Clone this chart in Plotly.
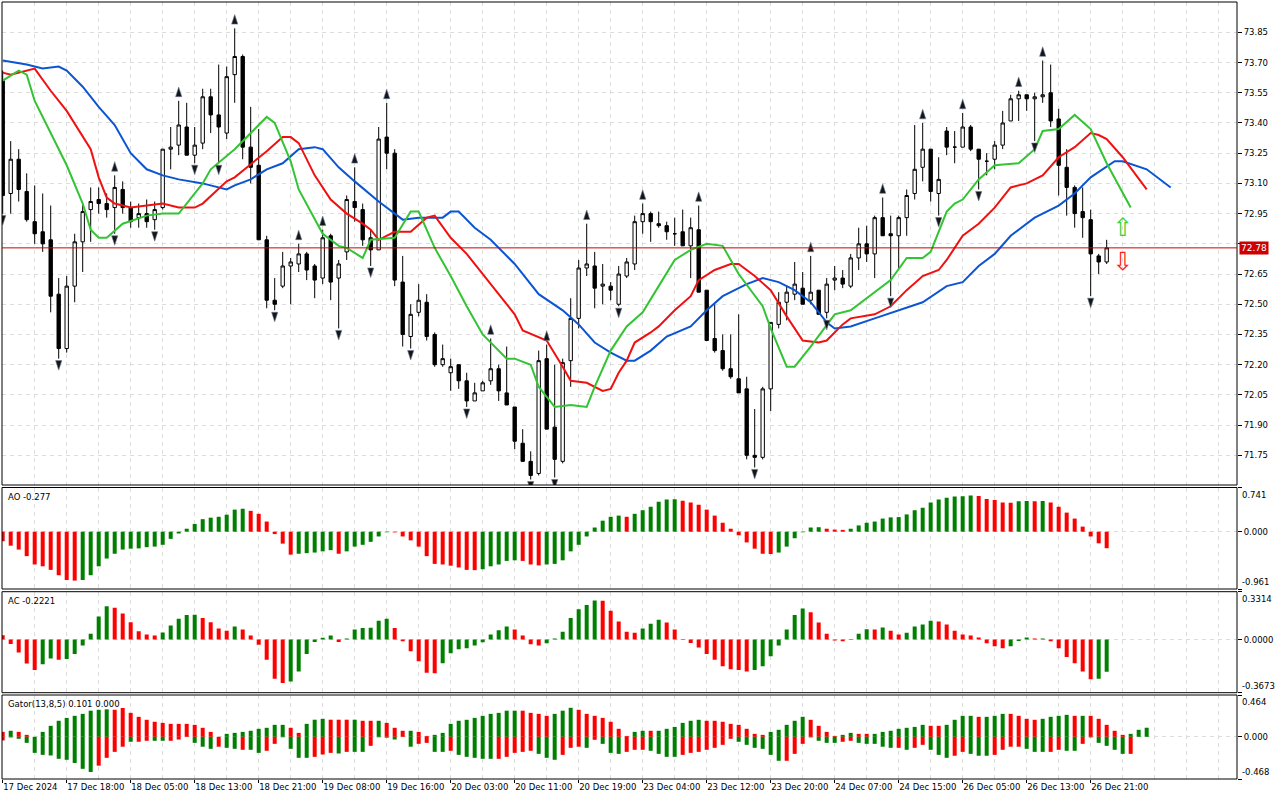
import plotly.graph_objects as go

# ---------------- price data (H1 bars, index 0..138) ----------------
opens = [73.61, 73.05, 73.22, 73.06, 72.91, 72.86, 72.82, 72.55, 72.28, 72.59,
         72.81, 72.97, 73.02, 73.00, 72.98, 73.07, 72.98, 72.93, 72.95, 72.92,
         72.98, 73.27, 73.29, 73.38, 73.24, 73.30, 73.53, 73.44, 73.35, 73.64,
         73.73, 73.28, 73.19, 72.82, 72.52, 72.59, 72.69, 72.70, 72.75, 72.69,
         72.63, 72.84, 72.63, 72.76, 73.01, 72.97, 72.83, 72.77, 73.33, 73.25,
         72.61, 72.34, 72.46, 72.51, 72.35, 72.20, 72.16, 72.20, 72.12, 72.02,
         72.07, 72.12, 72.18, 72.06, 71.99, 71.81, 71.72, 71.66, 72.23, 71.89,
         71.72, 72.22, 72.43, 72.68, 72.69, 72.59, 72.59, 72.50, 72.64, 72.70,
         72.91, 72.95, 72.90, 72.89, 72.85, 72.86, 72.79, 72.87, 72.57, 72.33,
         72.27, 72.18, 72.13, 72.08, 71.75, 71.74, 72.08, 72.40, 72.51, 72.55,
         72.58, 72.52, 72.57, 72.46, 72.62, 72.63, 72.59, 72.73, 72.80, 72.75,
         72.93, 72.85, 72.84, 72.93, 73.05, 73.18, 73.27, 73.05, 73.36, 73.28,
         73.28, 73.38, 73.27, 73.21, 73.22, 73.29, 73.41, 73.52, 73.54, 73.52,
         73.53, 73.55, 73.42, 73.18, 73.08, 72.96, 72.92, 72.74, 72.71]
highs = [73.66, 73.31, 73.27, 73.15, 73.09, 73.05, 72.99, 72.63, 72.64, 72.85,
         73.00, 73.08, 73.08, 73.05, 73.14, 73.11, 73.01, 73.00, 73.02, 73.01,
         73.27, 73.38, 73.51, 73.50, 73.38, 73.57, 73.57, 73.69, 73.68, 73.87,
         73.74, 73.48, 73.37, 72.84, 72.63, 72.76, 72.73, 72.80, 72.76, 72.70,
         72.87, 72.85, 72.72, 73.04, 73.18, 73.00, 72.87, 73.38, 73.50, 73.27,
         72.74, 72.50, 72.60, 72.55, 72.36, 72.30, 72.23, 72.20, 72.16, 72.11,
         72.12, 72.33, 72.20, 72.29, 71.99, 71.88, 71.77, 72.27, 72.30, 72.20,
         72.23, 72.53, 72.72, 72.90, 72.76, 72.70, 72.61, 72.69, 72.73, 72.94,
         73.00, 72.96, 72.96, 72.91, 72.93, 72.97, 72.93, 72.99, 72.57, 72.50,
         72.35, 72.35, 72.45, 72.14, 71.98, 72.09, 72.41, 72.56, 72.59, 72.71,
         72.66, 72.74, 72.57, 72.63, 72.69, 72.67, 72.75, 72.88, 72.89, 72.94,
         73.03, 72.94, 72.94, 73.07, 73.39, 73.40, 73.27, 73.23, 73.38, 73.36,
         73.45, 73.39, 73.27, 73.25, 73.31, 73.46, 73.54, 73.56, 73.54, 73.55,
         73.71, 73.69, 73.47, 73.27, 73.09, 73.08, 72.97, 72.75, 72.82]
lows = [72.95, 72.95, 73.01, 72.91, 72.80, 72.76, 72.46, 72.23, 72.26, 72.51,
        72.66, 72.81, 72.95, 72.93, 72.85, 72.95, 72.88, 72.88, 72.88, 72.87,
        72.97, 73.17, 73.24, 73.24, 73.20, 73.27, 73.35, 73.20, 73.32, 73.50,
        73.22, 73.10, 72.82, 72.48, 72.47, 72.58, 72.50, 72.66, 72.62, 72.53,
        72.60, 72.52, 72.38, 72.72, 72.91, 72.79, 72.69, 72.77, 73.17, 72.59,
        72.29, 72.28, 72.44, 72.32, 72.19, 72.19, 72.07, 72.08, 71.99, 72.02,
        72.07, 72.10, 72.02, 72.00, 71.78, 71.72, 71.63, 71.65, 71.88, 71.64,
        71.71, 72.09, 72.38, 72.64, 72.48, 72.50, 72.52, 72.49, 72.63, 72.67,
        72.85, 72.81, 72.88, 72.82, 72.79, 72.79, 72.63, 72.56, 72.32, 72.26,
        72.17, 72.13, 72.06, 71.73, 71.69, 71.73, 71.97, 72.38, 72.42, 72.52,
        72.50, 72.50, 72.45, 72.43, 72.57, 72.58, 72.58, 72.67, 72.71, 72.63,
        72.84, 72.54, 72.68, 72.84, 73.02, 73.11, 73.01, 72.94, 73.24, 73.20,
        73.28, 73.26, 73.07, 73.14, 73.17, 73.27, 73.41, 73.41, 73.46, 73.31,
        73.50, 73.38, 73.04, 72.94, 72.88, 72.83, 72.54, 72.65, 72.70]
closes = [73.04, 73.22, 73.07, 72.92, 72.85, 72.80, 72.54, 72.28, 72.59, 72.81,
          72.96, 73.01, 73.00, 72.97, 73.08, 72.98, 72.91, 72.95, 72.91, 72.97,
          73.27, 73.28, 73.39, 73.24, 73.29, 73.53, 73.44, 73.38, 73.63, 73.73,
          73.28, 73.18, 72.82, 72.52, 72.50, 72.69, 72.71, 72.75, 72.67, 72.62,
          72.83, 72.61, 72.70, 73.02, 72.98, 72.82, 72.77, 73.32, 73.25, 72.62,
          72.35, 72.45, 72.52, 72.34, 72.20, 72.23, 72.19, 72.12, 72.02, 72.06,
          72.11, 72.18, 72.07, 72.00, 71.82, 71.72, 71.65, 72.22, 71.88, 71.73,
          72.21, 72.43, 72.68, 72.70, 72.58, 72.60, 72.57, 72.65, 72.71, 72.91,
          72.95, 72.91, 72.89, 72.86, 72.85, 72.79, 72.88, 72.56, 72.32, 72.27,
          72.18, 72.14, 72.06, 71.75, 71.74, 72.08, 72.41, 72.51, 72.56, 72.60,
          72.50, 72.56, 72.45, 72.60, 72.63, 72.60, 72.73, 72.80, 72.75, 72.93,
          72.84, 72.84, 72.93, 73.04, 73.17, 73.27, 73.06, 73.12, 73.28, 73.28,
          73.38, 73.27, 73.22, 73.21, 73.29, 73.40, 73.52, 73.54, 73.52, 73.53,
          73.54, 73.41, 73.19, 73.08, 72.95, 72.93, 72.75, 72.71, 72.78]

last_price = 72.78

# ---------------- Alligator lines ----------------
jaw_x = [0, 3, 5, 7, 8, 10, 12, 14, 16, 18,
         20, 22, 25, 28, 29, 31, 33, 35, 37, 39,
         40, 42, 44, 47, 50, 52, 55, 56, 57, 59,
         61, 64, 67, 70, 72, 74, 76, 78, 79, 81,
         83, 86, 88, 90, 93, 95, 97, 99, 101, 103,
         104, 106, 109, 112, 115, 118, 120, 122, 124, 126,
         129, 132, 134, 136, 139, 140, 143, 146]
jaw_y = [73.71, 73.69, 73.67, 73.68, 73.66, 73.58, 73.48, 73.39, 73.25, 73.17,
         73.14, 73.12, 73.10, 73.07, 73.09, 73.12, 73.17, 73.20, 73.27, 73.28,
         73.27, 73.18, 73.11, 73.01, 72.92, 72.93, 72.93, 72.96, 72.96, 72.88,
         72.82, 72.70, 72.55, 72.47, 72.40, 72.31, 72.26, 72.22, 72.22, 72.27,
         72.34, 72.39, 72.47, 72.54, 72.60, 72.63, 72.61, 72.57, 72.51, 72.41,
         72.38, 72.39, 72.43, 72.47, 72.51, 72.59, 72.61, 72.69, 72.75, 72.84,
         72.93, 72.99, 73.05, 73.13, 73.21, 73.21, 73.17, 73.08]
teeth_x = [0, 1, 4, 6, 8, 10, 11, 12, 13, 14,
           16, 18, 20, 22, 24, 25, 28, 29, 33, 35,
           36, 37, 39, 41, 43, 45, 46, 47, 49, 51,
           53, 54, 56, 58, 60, 62, 64, 65, 68, 70,
           71, 73, 75, 76, 77, 78, 79, 81, 82, 84,
           86, 87, 89, 91, 92, 94, 96, 98, 100, 102,
           103, 105, 106, 109, 111, 113, 115, 117, 118, 120,
           122, 124, 126, 128, 130, 132, 134, 136, 137, 138,
           140, 143]
teeth_y = [73.65, 73.64, 73.67, 73.56, 73.46, 73.33, 73.27, 73.13, 73.03, 73.00,
           72.98, 72.99, 73.00, 72.98, 72.98, 73.00, 73.11, 73.13, 73.26, 73.33,
           73.33, 73.30, 73.14, 73.02, 72.95, 72.90, 72.87, 72.82, 72.86, 72.86,
           72.93, 72.94, 72.83, 72.75, 72.65, 72.55, 72.45, 72.37, 72.32, 72.19,
           72.12, 72.11, 72.07, 72.08, 72.16, 72.22, 72.31, 72.36, 72.39, 72.47,
           72.54, 72.62, 72.67, 72.70, 72.70, 72.64, 72.57, 72.44, 72.32, 72.31,
           72.32, 72.40, 72.43, 72.45, 72.49, 72.57, 72.64, 72.67, 72.72, 72.84,
           72.90, 72.98, 73.08, 73.10, 73.14, 73.23, 73.28, 73.35, 73.34, 73.32,
           73.23, 73.07]
lips_x = [0, 2, 3, 4, 6, 8, 10, 11, 12, 13,
          15, 18, 20, 22, 25, 26, 29, 31, 33, 34,
          36, 37, 39, 40, 42, 43, 45, 46, 49, 51,
          52, 54, 56, 58, 60, 63, 64, 66, 67, 69,
          71, 73, 74, 76, 78, 80, 82, 84, 86, 88,
          90, 92, 95, 96, 98, 99, 101, 103, 104, 106,
          109, 111, 113, 115, 116, 118, 119, 120, 122, 124,
          127, 129, 130, 132, 134, 136, 138, 140, 141]
lips_y = [73.61, 73.66, 73.64, 73.51, 73.35, 73.19, 73.00, 72.87, 72.83, 72.83,
          72.90, 72.94, 72.95, 72.95, 73.10, 73.17, 73.27, 73.35, 73.43, 73.40,
          73.21, 73.07, 72.92, 72.85, 72.79, 72.78, 72.73, 72.82, 72.83, 72.96,
          72.96, 72.78, 72.64, 72.49, 72.35, 72.23, 72.23, 72.20, 72.09, 71.99,
          72.00, 71.99, 72.09, 72.27, 72.39, 72.46, 72.59, 72.72, 72.77, 72.80,
          72.79, 72.65, 72.49, 72.38, 72.19, 72.19, 72.29, 72.40, 72.45, 72.47,
          72.56, 72.62, 72.73, 72.73, 72.76, 72.96, 73.00, 73.02, 73.12, 73.19,
          73.20, 73.27, 73.36, 73.37, 73.44, 73.37, 73.20, 73.05, 72.98]

# ---------------- Fractals (bar indices) ----------------
fractal_up = [14, 22, 29, 37, 40, 44, 48, 61, 68, 73, 80, 87, 101, 110, 115, 120, 127, 130]
fractal_down = [0, 7, 14, 19, 24, 27, 34, 42, 46, 51, 58, 66, 69, 77, 94, 103, 111, 117, 122, 129, 136]

# signal arrows at the right of the last bar
signal_x = [140]
signal_up_y = [72.87]
signal_down_y = [72.70]

# ---------------- Awesome Oscillator ----------------
ao = [-0.16, -0.235, -0.30, -0.41, -0.55, -0.58, -0.64, -0.73, -0.81, -0.82,
      -0.81, -0.73, -0.58, -0.45, -0.37, -0.30, -0.285, -0.28, -0.26, -0.25,
      -0.22, -0.12, -0.03, 0.05, 0.13, 0.21, 0.235, 0.25, 0.285, 0.37,
      0.385, 0.35, 0.30, 0.17, -0.04, -0.20, -0.385, -0.37, -0.36, -0.35,
      -0.33, -0.31, -0.37, -0.33, -0.25, -0.22, -0.17, -0.08, -0.01, -0.012,
      -0.08, -0.145, -0.25, -0.41, -0.54, -0.55, -0.57, -0.60, -0.64, -0.645,
      -0.63, -0.58, -0.55, -0.49, -0.48, -0.49, -0.55, -0.565, -0.55, -0.54,
      -0.48, -0.33, -0.22, -0.08, 0.07, 0.185, 0.25, 0.27, 0.25, 0.30,
      0.36, 0.42, 0.50, 0.54, 0.545, 0.52, 0.49, 0.45, 0.37, 0.27,
      0.15, 0.05, -0.06, -0.18, -0.285, -0.37, -0.375, -0.35, -0.25, -0.11,
      -0.01, 0.07, 0.075, 0.05, 0.035, 0.03, 0.05, 0.105, 0.15, 0.17,
      0.22, 0.24, 0.245, 0.29, 0.36, 0.40, 0.49, 0.54, 0.57, 0.59,
      0.595, 0.605, 0.60, 0.55, 0.53, 0.49, 0.485, 0.51, 0.515, 0.51,
      0.515, 0.49, 0.42, 0.32, 0.22, 0.085, -0.08, -0.195, -0.277]
ao_scale = [-0.961, 0.741]

# ---------------- Accelerator Oscillator ----------------
ac = [0.03, -0.03, -0.09, -0.165, -0.21, -0.17, -0.13, -0.14, -0.135, -0.10,
      -0.04, 0.04, 0.16, 0.23, 0.22, 0.18, 0.12, 0.058, 0.035, 0.028,
      0.05, 0.097, 0.145, 0.17, 0.172, 0.15, 0.12, 0.076, 0.062, 0.09,
      0.07, 0.028, -0.035, -0.14, -0.27, -0.30, -0.29, -0.22, -0.10, -0.016,
      0.012, 0.028, -0.016, 0.007, 0.07, 0.08, 0.082, 0.13, 0.145, 0.08,
      -0.012, -0.08, -0.15, -0.23, -0.232, -0.164, -0.095, -0.067, -0.06, -0.04,
      -0.018, 0.035, 0.065, 0.09, 0.07, 0.028, -0.032, -0.04, -0.025, 0.007,
      0.055, 0.15, 0.21, 0.24, 0.27, 0.268, 0.20, 0.125, 0.055, 0.048,
      0.076, 0.11, 0.138, 0.118, 0.07, 0.005, -0.023, -0.055, -0.10, -0.14,
      -0.185, -0.205, -0.21, -0.22, -0.21, -0.185, -0.115, -0.04, 0.07, 0.17,
      0.215, 0.19, 0.118, 0.04, -0.007, -0.012, -0.002, 0.04, 0.072, 0.07,
      0.083, 0.062, 0.035, 0.048, 0.09, 0.104, 0.13, 0.125, 0.104, 0.062,
      0.035, 0.028, 0.014, -0.025, -0.046, -0.06, -0.046, -0.009, 0.014, 0.007,
      0.008, -0.012, -0.06, -0.12, -0.164, -0.22, -0.275, -0.27, -0.2221]
ac_scale = [-0.3673, 0.3314]

# ---------------- Gator Oscillator (13,8,5) ----------------
gator_up = [0.055, 0.067, 0.055, 0.022, 0.0, 0.055, 0.122, 0.178, 0.21, 0.233,
            0.255, 0.29, 0.30, 0.305, 0.30, 0.32, 0.266, 0.222, 0.189, 0.167,
            0.155, 0.144, 0.144, 0.144, 0.133, 0.10, 0.055, 0.0, 0.033, 0.044,
            0.055, 0.067, 0.089, 0.10, 0.133, 0.133, 0.10, 0.044, 0.144, 0.19,
            0.20, 0.19, 0.19, 0.19, 0.19, 0.178, 0.178, 0.178, 0.155, 0.10,
            0.067, 0.067, 0.055, 0.01, 0.022, 0.044, 0.144, 0.178, 0.189, 0.21,
            0.233, 0.255, 0.266, 0.29, 0.29, 0.29, 0.266, 0.255, 0.233, 0.255,
            0.29, 0.322, 0.30, 0.255, 0.233, 0.21, 0.167, 0.089, 0.01, 0.055,
            0.067, 0.067, 0.067, 0.089, 0.11, 0.155, 0.178, 0.189, 0.178, 0.178,
            0.167, 0.144, 0.133, 0.089, 0.033, 0.022, 0.055, 0.078, 0.133, 0.178,
            0.222, 0.189, 0.122, 0.055, 0.01, 0.022, 0.044, 0.033, 0.033, 0.033,
            0.055, 0.067, 0.089, 0.10, 0.11, 0.133, 0.122, 0.122, 0.133, 0.189,
            0.233, 0.233, 0.222, 0.222, 0.233, 0.255, 0.255, 0.233, 0.20, 0.189,
            0.20, 0.222, 0.233, 0.244, 0.233, 0.233, 0.233, 0.20, 0.133, 0.067,
            0.022, 0.033, 0.078, 0.101]
gator_up_colors = ("rgrrgggggg" "ggggrrrrrr" "rrrrrrrrgg" "ggggggrrgg" "grrrgrrgrr"
                   "rgrrgggggg" "gggggrrrrg" "ggrrrrrrrg" "grggggggrr" "rrrrrrgggg"
                   "grrrrggrrg" "ggggggrrgg" "ggrgggrrrr" "ggggrgrrrr" "rggg")
gator_down = [-0.04, -0.007, -0.022, -0.067, -0.178, -0.20, -0.207, -0.244, -0.255, -0.29,
              -0.355, -0.39, -0.32, -0.233, -0.167, -0.11, -0.055, -0.055, -0.044, -0.044,
              -0.044, -0.044, -0.03, 0.0, -0.067, -0.11, -0.133, -0.11, -0.122, -0.133,
              -0.144, -0.144, -0.178, -0.155, -0.078, -0.005, -0.133, -0.233, -0.233, -0.222,
              -0.196, -0.178, -0.185, -0.167, -0.167, -0.167, -0.10, -0.005, -0.01, -0.03,
              0.0, -0.11, -0.078, -0.067, -0.167, -0.167, -0.155, -0.20, -0.222, -0.233,
              -0.244, -0.244, -0.244, -0.222, -0.178, -0.167, -0.155, -0.189, -0.233, -0.255,
              -0.20, -0.122, -0.11, -0.122, -0.033, -0.078, -0.178, -0.189, -0.167, -0.144,
              -0.144, -0.155, -0.189, -0.222, -0.222, -0.20, -0.178, -0.167, -0.144, -0.122,
              -0.089, -0.022, -0.055, -0.089, -0.122, -0.133, -0.20, -0.266, -0.266, -0.189,
              -0.078, -0.007, -0.044, -0.067, -0.067, -0.055, -0.044, -0.067, -0.078, -0.078,
              -0.11, -0.122, -0.122, -0.144, -0.122, -0.089, -0.144, -0.20, -0.233, -0.21,
              -0.167, -0.189, -0.21, -0.21, -0.20, -0.144, -0.11, -0.11, -0.133, -0.167,
              -0.167, -0.167, -0.144, -0.155, -0.155, -0.078, -0.007, -0.067, -0.10, -0.144,
              -0.189, -0.189, 0.0, 0.0]
gator_down_colors = ("rggggggggg" "ggrrrrgrrg" "grrggggrgg" "rggrrggggr" "rrgrggrggg"
                     "ggrrggrggg" "ggrrrrrggg" "rrrgrgggrr" "rggggrrrrr" "rrggggggrr"
                     "rggggrrggg" "ggrgrrgggr" "rgggrrrrgg" "grrggrgggg" "grgr")
gator_scale = [-0.468, 0.464]

# ---------------- axis labels ----------------
price_ticks = [71.75, 71.90, 72.05, 72.20, 72.35, 72.50, 72.65, 72.80,
               72.95, 73.10, 73.25, 73.40, 73.55, 73.70, 73.85]
# 72.80 is covered by the last-price box in the reference
price_tick_labels = ["71.75", "71.90", "72.05", "72.20", "72.35", "72.50", "72.65", "",
                     "72.95", "73.10", "73.25", "73.40", "73.55", "73.70", "73.85"]
time_tick_pos = [0, 8, 16, 24, 32, 40, 48, 56, 64, 72, 80, 88, 96, 104, 112, 120, 128, 136]
time_tick_labels = ["17 Dec 2024", "17 Dec 18:00", "18 Dec 05:00", "18 Dec 13:00", "18 Dec 21:00",
                    "19 Dec 08:00", "19 Dec 16:00", "20 Dec 03:00", "20 Dec 11:00", "20 Dec 19:00",
                    "23 Dec 04:00", "23 Dec 12:00", "23 Dec 20:00", "24 Dec 07:00", "24 Dec 15:00",
                    "26 Dec 05:00", "26 Dec 13:00", "26 Dec 21:00"]

# ---------------- styling ----------------
FONT = "DejaVu Sans"
FS = 8.5
GRID = "#dcdcdc"
GDASH = "4px,4px"
GREEN = "#008000"
RED = "#ff0000"
COLMAP = {"g": GREEN, "r": RED}


def up_down_colors(vals):
    out = [RED]
    for a, b in zip(vals[:-1], vals[1:]):
        out.append(GREEN if b > a else RED)
    return out


idx = list(range(len(opens)))
fig = go.Figure()

fig.add_trace(go.Candlestick(
    x=idx, open=opens, high=highs, low=lows, close=closes,
    increasing=dict(line=dict(color="black", width=1), fillcolor="white"),
    decreasing=dict(line=dict(color="black", width=1), fillcolor="black"),
    xaxis="x", yaxis="y", hoverinfo="skip", showlegend=False))

for xs, ys, col in [(jaw_x, jaw_y, "#0b55d3"), (teeth_x, teeth_y, "#f01010"), (lips_x, lips_y, "#33c433")]:
    fig.add_trace(go.Scatter(x=xs, y=ys, mode="lines", line=dict(color=col, width=2),
                             xaxis="x", yaxis="y", hoverinfo="skip", showlegend=False))

fig.add_trace(go.Scatter(
    x=fractal_up, y=[highs[i] + 0.068 for i in fractal_up], mode="markers",
    marker=dict(symbol="arrow", size=10, color="#151515", line=dict(width=0.6, color="#6a7a9a")),
    xaxis="x", yaxis="y", hoverinfo="skip", showlegend=False))
fig.add_trace(go.Scatter(
    x=fractal_down, y=[lows[i] - 0.057 for i in fractal_down], mode="markers",
    marker=dict(symbol="arrow", angle=180, size=10, color="#151515", line=dict(width=0.6, color="#6a7a9a")),
    xaxis="x", yaxis="y", hoverinfo="skip", showlegend=False))

fig.add_trace(go.Scatter(x=signal_x, y=signal_up_y, mode="text", text=["⇧"],
                         textfont=dict(family=FONT, size=25, color="#3ccf3c"),
                         xaxis="x", yaxis="y", hoverinfo="skip", showlegend=False))
fig.add_trace(go.Scatter(x=signal_x, y=signal_down_y, mode="text", text=["⇩"],
                         textfont=dict(family=FONT, size=25, color="#ff2020"),
                         xaxis="x", yaxis="y", hoverinfo="skip", showlegend=False))

fig.add_trace(go.Bar(x=idx, y=ao, marker=dict(color=up_down_colors(ao), line=dict(width=0)),
                     width=0.5, xaxis="x2", yaxis="y2", hoverinfo="skip", showlegend=False))
fig.add_trace(go.Bar(x=idx, y=ac, marker=dict(color=up_down_colors(ac), line=dict(width=0)),
                     width=0.5, xaxis="x3", yaxis="y3", hoverinfo="skip", showlegend=False))
gx = list(range(len(gator_up)))
fig.add_trace(go.Bar(x=gx, y=gator_up, marker=dict(color=[COLMAP[c] for c in gator_up_colors], line=dict(width=0)),
                     width=0.5, xaxis="x4", yaxis="y4", hoverinfo="skip", showlegend=False))
fig.add_trace(go.Bar(x=gx, y=gator_down, marker=dict(color=[COLMAP[c] for c in gator_down_colors], line=dict(width=0)),
                     width=0.5, xaxis="x4", yaxis="y4", hoverinfo="skip", showlegend=False))

# pixel geometry -> domains (plot area 777 px tall, from y=2 to y=779)
H = 777.0
def dom(top_px, bot_px):
    return [(779 - bot_px) / H, (779 - top_px) / H]

D_MAIN = dom(2, 485)
D_AO = dom(487.5, 589)
D_AC = dom(591.7, 692.7)
D_GT = dom(695, 779)

XR = [-0.0875, 154.29]
minor = dict(tickmode="linear", tick0=0, dtick=4, showgrid=True, gridcolor=GRID, griddash=GDASH,
             gridwidth=1, ticks="")
xbase = dict(range=XR, tickmode="array", tickvals=time_tick_pos, showgrid=True, gridcolor=GRID,
             griddash=GDASH, gridwidth=1, zeroline=False, showline=False, minor=minor,
             fixedrange=True, automargin=False, tickangle=0)

layout = dict(
    width=1280, height=800,
    margin=dict(l=2, r=43, t=2, b=21, autoexpand=False),
    paper_bgcolor="white", plot_bgcolor="white",
    font=dict(family=FONT, size=FS, color="black"),
    barmode="overlay", boxgap=0.4, hovermode=False, showlegend=False,
    xaxis=dict(xbase, anchor="y", showticklabels=False, ticks="", rangeslider=dict(visible=False)),
    xaxis2=dict(xbase, anchor="y2", matches="x", showticklabels=False, ticks=""),
    xaxis3=dict(xbase, anchor="y3", matches="x", showticklabels=False, ticks=""),
    xaxis4=dict(xbase, anchor="y4", matches="x", showticklabels=True, ticktext=time_tick_labels,
                ticks="outside", ticklen=3, tickcolor="black", ticklabelposition="outside right",
                tickfont=dict(family=FONT, size=FS, color="black")),
)
ybase = dict(side="right", ticks="outside", ticklen=4, tickcolor="black", showgrid=True,
             gridcolor=GRID, griddash=GDASH, gridwidth=1, zeroline=False, showline=False,
             tickfont=dict(family=FONT, size=FS, color="black"), fixedrange=True, automargin=False)
layout["yaxis"] = dict(ybase, domain=D_MAIN, anchor="x", range=[71.6027, 74.0006], tickmode="array",
                       tickvals=price_ticks, ticktext=price_tick_labels)
layout["yaxis2"] = dict(ybase, domain=D_AO, anchor="x2", range=ao_scale, tickmode="array",
                        tickvals=[ao_scale[1], 0, ao_scale[0]], ticktext=["", "0.000", ""])
layout["yaxis3"] = dict(ybase, domain=D_AC, anchor="x3", range=ac_scale, tickmode="array",
                        tickvals=[ac_scale[1], 0, ac_scale[0]], ticktext=["", "0.0000", ""])
layout["yaxis4"] = dict(ybase, domain=D_GT, anchor="x4", range=gator_scale, tickmode="array",
                        tickvals=[gator_scale[1], 0, gator_scale[0]], ticktext=["", "0.000", ""])
fig.update_layout(**layout)

shapes = []
for d in (D_MAIN, D_AO, D_AC, D_GT):
    shapes.append(dict(type="rect", xref="paper", yref="paper", x0=0, x1=1, y0=d[0], y1=d[1],
                       line=dict(color="black", width=1), fillcolor="rgba(0,0,0,0)", layer="above"))
shapes.append(dict(type="line", xref="paper", yref="y", x0=0, x1=1, y0=last_price, y1=last_price,
                   line=dict(color="#d00000", width=1), layer="above"))
fig.update_layout(shapes=shapes)

ann = []
for d, txt in [(D_AO, "AO " + f"{ao[-1]:.3f}"), (D_AC, "AC " + f"{ac[-1]:.4f}"),
               (D_GT, "Gator(13,8,5) " + f"{gator_up[-1]:.3f}" + " " + f"{abs(gator_down[-1]):.3f}")]:
    ann.append(dict(xref="paper", yref="paper", x=0, y=d[1], xanchor="left", yanchor="top",
                    xshift=4, yshift=-2, text=txt, showarrow=False,
                    font=dict(family=FONT, size=FS, color="black")))
for d, sc, fmt in [(D_AO, ao_scale, "{:.3f}"), (D_AC, ac_scale, "{:.4f}"), (D_GT, gator_scale, "{:.3f}")]:
    ann.append(dict(xref="paper", yref="paper", x=1, y=d[1], xanchor="left", yanchor="top",
                    xshift=3, yshift=0, text=fmt.format(sc[1]), showarrow=False,
                    font=dict(family=FONT, size=FS, color="black")))
    ann.append(dict(xref="paper", yref="paper", x=1, y=d[0], xanchor="left", yanchor="bottom",
                    xshift=3, yshift=0, text=fmt.format(sc[0]), showarrow=False,
                    font=dict(family=FONT, size=FS, color="black")))
ann.append(dict(xref="paper", yref="y", x=1, y=last_price, xanchor="left", yanchor="middle",
                xshift=2, text=f"{last_price:.2f}", showarrow=False, bgcolor="#cc0000",
                borderpad=1, font=dict(family=FONT, size=FS + 0.5, color="white")))
fig.update_layout(annotations=ann)

fig.write_html("out.html", config={"displayModeBar": False, "staticPlot": True},
               post_script="document.body.style.margin='0';document.body.style.overflow='hidden';")
